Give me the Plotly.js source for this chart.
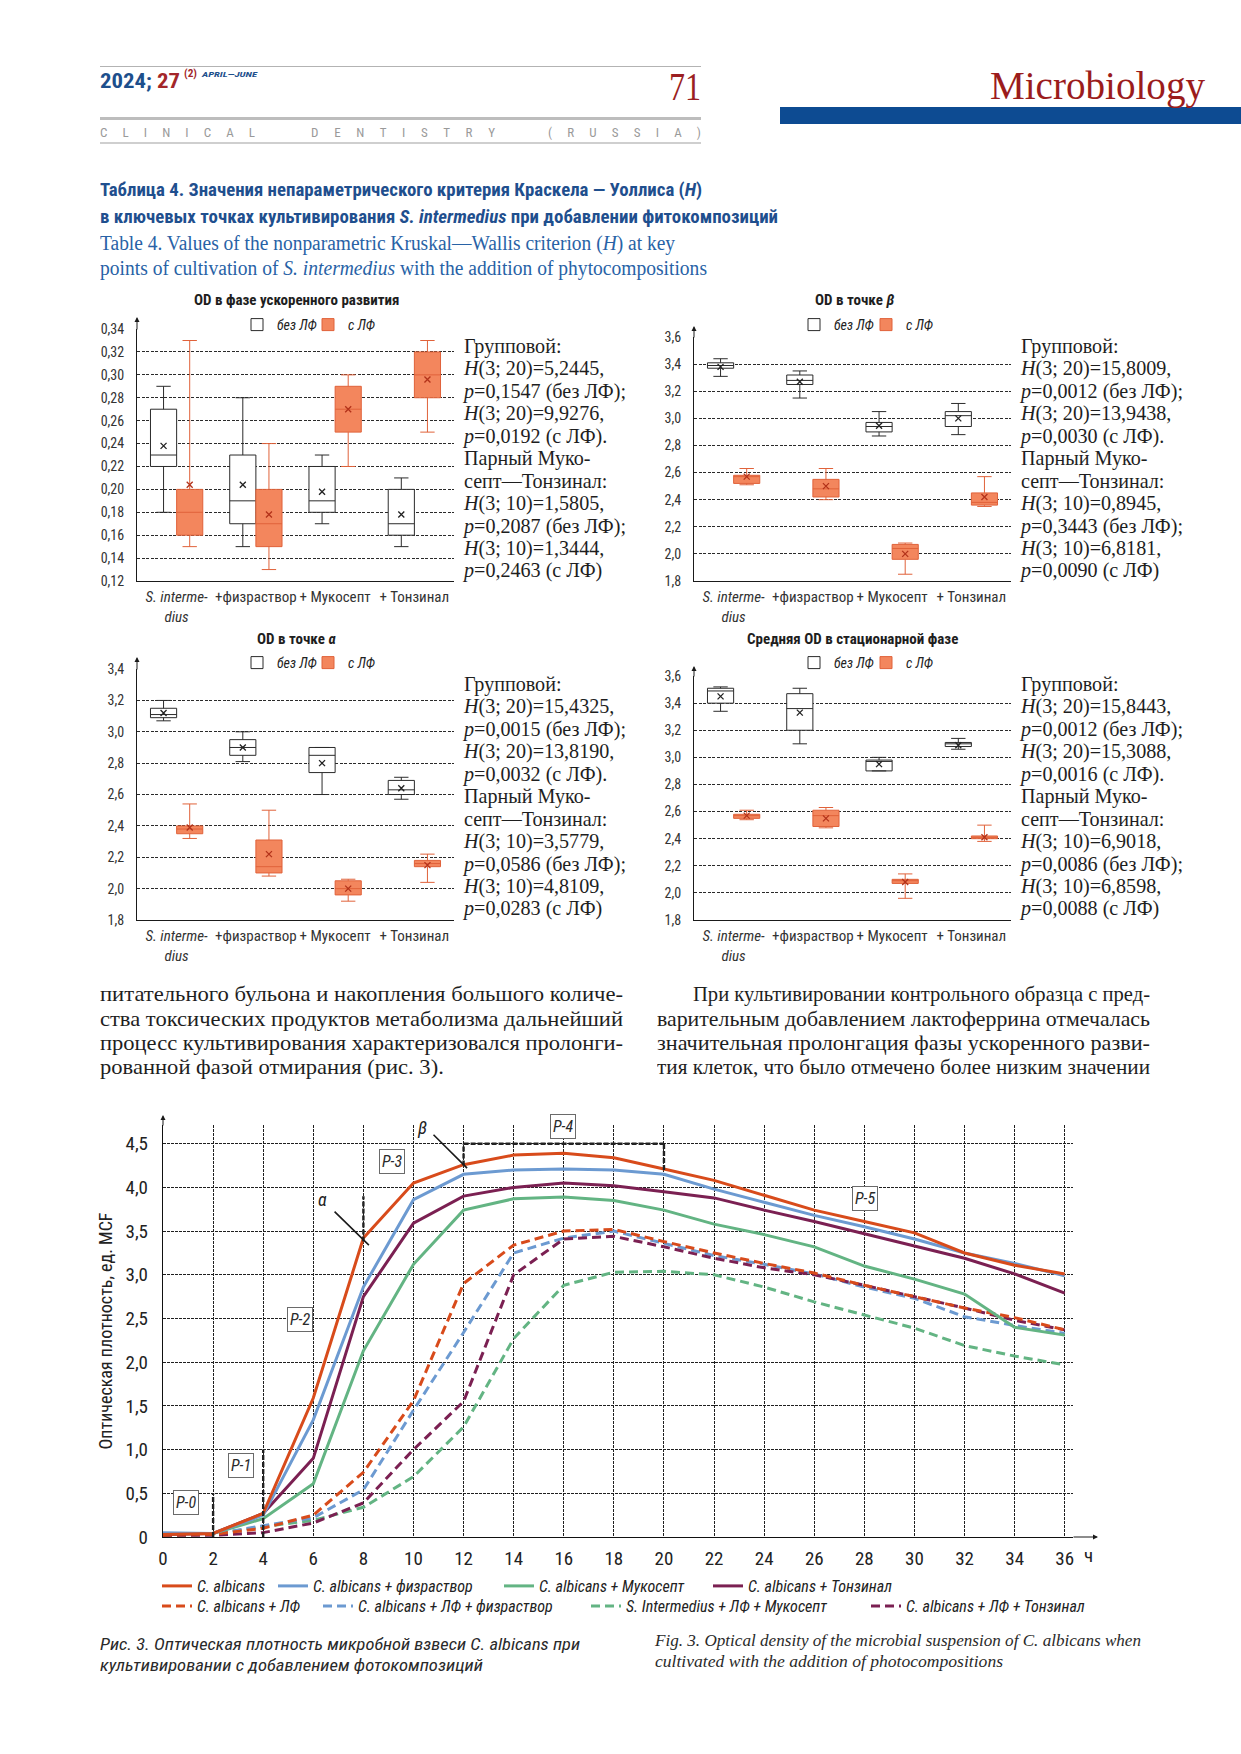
<!DOCTYPE html>
<html><head><meta charset="utf-8">
<script src="https://cdn.plot.ly/plotly-3.0.1.min.js"></script>
<style>
html,body{margin:0;padding:0;background:#fff;}
#page{position:relative;width:1241px;height:1754px;overflow:hidden;background:#fff;}
#plot{position:absolute;left:0;top:0;width:1241px;height:1754px;}
.t{position:absolute;white-space:nowrap;line-height:1;transform-origin:0 50%;}
.rule{position:absolute;}
</style></head>
<body><div id="page"><div id="plot"></div></div>
<script>
// ================= DATA =================
// Box charts: categories and groups
const boxCategories = ['<i>S. interme-</i><br><i>dius</i>', '+физраствор', '+ Мукосепт', '+ Тонзинал'];
const groupNames = ['без ЛФ', 'с ЛФ'];

// OD in accelerated growth phase
const accNoLfLow  = [0.18, 0.15, 0.17, 0.15];
const accNoLfQ1   = [0.22, 0.17, 0.18, 0.16];
const accNoLfMed  = [0.23, 0.19, 0.19, 0.17];
const accNoLfQ3   = [0.27, 0.23, 0.22, 0.20];
const accNoLfHigh = [0.29, 0.28, 0.23, 0.21];
const accNoLfMean = [0.238, 0.204, 0.198, 0.178];
const accLfLow    = [0.15, 0.13, 0.22, 0.25];
const accLfQ1     = [0.16, 0.15, 0.25, 0.28];
const accLfMed    = [0.18, 0.17, 0.27, 0.30];
const accLfQ3     = [0.20, 0.20, 0.29, 0.32];
const accLfHigh   = [0.33, 0.24, 0.30, 0.33];
const accLfMean   = [0.204, 0.178, 0.270, 0.296];

// OD at point beta
const betaNoLfLow  = [3.31, 3.15, 2.87, 2.88];
const betaNoLfQ1   = [3.37, 3.25, 2.90, 2.94];
const betaNoLfMed  = [3.39, 3.28, 2.94, 3.02];
const betaNoLfQ3   = [3.41, 3.32, 2.97, 3.05];
const betaNoLfHigh = [3.44, 3.35, 3.05, 3.11];
const betaNoLfMean = [3.38, 3.27, 2.945, 3.00];
const betaLfLow    = [2.51, 2.40, 1.85, 2.35];
const betaLfQ1     = [2.52, 2.42, 1.96, 2.36];
const betaLfMed    = [2.57, 2.48, 2.04, 2.38];
const betaLfQ3     = [2.58, 2.55, 2.07, 2.45];
const betaLfHigh   = [2.63, 2.63, 2.08, 2.57];
const betaLfMean   = [2.57, 2.50, 2.00, 2.42];

// OD at point alpha
const alphaNoLfLow  = [3.07, 2.81, 2.60, 2.57];
const alphaNoLfQ1   = [3.09, 2.85, 2.74, 2.60];
const alphaNoLfMed  = [3.11, 2.90, 2.85, 2.63];
const alphaNoLfQ3   = [3.15, 2.95, 2.90, 2.69];
const alphaNoLfHigh = [3.20, 3.00, 2.90, 2.71];
const alphaNoLfMean = [3.12, 2.90, 2.80, 2.64];
const alphaLfLow    = [2.32, 2.08, 1.92, 2.04];
const alphaLfQ1     = [2.35, 2.10, 1.96, 2.14];
const alphaLfMed    = [2.38, 2.14, 2.00, 2.16];
const alphaLfQ3     = [2.40, 2.31, 2.05, 2.18];
const alphaLfHigh   = [2.54, 2.50, 2.06, 2.22];
const alphaLfMean   = [2.39, 2.22, 2.00, 2.15];

// Mean OD in stationary phase
const statNoLfLow  = [3.34, 3.10, 2.90, 3.06];
const statNoLfQ1   = [3.40, 3.20, 2.90, 3.08];
const statNoLfMed  = [3.49, 3.36, 2.97, 3.10];
const statNoLfQ3   = [3.51, 3.47, 2.98, 3.11];
const statNoLfHigh = [3.52, 3.51, 3.00, 3.14];
const statNoLfMean = [3.45, 3.33, 2.95, 3.09];
const statLfLow    = [2.54, 2.48, 1.96, 2.38];
const statLfQ1     = [2.55, 2.49, 2.07, 2.40];
const statLfMed    = [2.57, 2.57, 2.09, 2.41];
const statLfQ3     = [2.58, 2.61, 2.10, 2.42];
const statLfHigh   = [2.61, 2.63, 2.14, 2.50];
const statLfMean   = [2.57, 2.55, 2.08, 2.41];

// Statistics text next to each box chart
const statsAccel = ['Групповой:', '<i>H</i>(3; 20)=5,2445,', '<i>p</i>=0,1547 (без ЛФ);', '<i>H</i>(3; 20)=9,9276,', '<i>p</i>=0,0192 (с ЛФ).', 'Парный Муко-', 'септ—Тонзинал:', '<i>H</i>(3; 10)=1,5805,', '<i>p</i>=0,2087 (без ЛФ);', '<i>H</i>(3; 10)=1,3444,', '<i>p</i>=0,2463 (с ЛФ)'];
const statsBeta = ['Групповой:', '<i>H</i>(3; 20)=15,8009,', '<i>p</i>=0,0012 (без ЛФ);', '<i>H</i>(3; 20)=13,9438,', '<i>p</i>=0,0030 (с ЛФ).', 'Парный Муко-', 'септ—Тонзинал:', '<i>H</i>(3; 10)=0,8945,', '<i>p</i>=0,3443 (без ЛФ);', '<i>H</i>(3; 10)=6,8181,', '<i>p</i>=0,0090 (с ЛФ)'];
const statsAlpha = ['Групповой:', '<i>H</i>(3; 20)=15,4325,', '<i>p</i>=0,0015 (без ЛФ);', '<i>H</i>(3; 20)=13,8190,', '<i>p</i>=0,0032 (с ЛФ).', 'Парный Муко-', 'септ—Тонзинал:', '<i>H</i>(3; 10)=3,5779,', '<i>p</i>=0,0586 (без ЛФ);', '<i>H</i>(3; 10)=4,8109,', '<i>p</i>=0,0283 (с ЛФ)'];
const statsStat = ['Групповой:', '<i>H</i>(3; 20)=15,8443,', '<i>p</i>=0,0012 (без ЛФ);', '<i>H</i>(3; 20)=15,3088,', '<i>p</i>=0,0016 (с ЛФ).', 'Парный Муко-', 'септ—Тонзинал:', '<i>H</i>(3; 10)=6,9018,', '<i>p</i>=0,0086 (без ЛФ);', '<i>H</i>(3; 10)=6,8598,', '<i>p</i>=0,0088 (с ЛФ)'];

// Growth curves (Fig. 3)
const hours = [0, 2, 4, 6, 8, 10, 12, 14, 16, 18, 20, 22, 24, 26, 28, 30, 32, 34, 36];
const hourLabels = ['0','2','4','6','8','10','12','14','16','18','20','22','24','26','28','30','32','34','36'];
const odTicks = [0, 0.5, 1, 1.5, 2, 2.5, 3, 3.5, 4, 4.5];
const odTickText = ['0', '0,5', '1,0', '1,5', '2,0', '2,5', '3,0', '3,5', '4,0', '4,5'];
const caAlbicans = [0.03, 0.04, 0.27, 1.59, 3.42, 4.05, 4.26, 4.37, 4.39, 4.34, 4.21, 4.08, 3.91, 3.74, 3.61, 3.48, 3.25, 3.11, 3.01];
const caFiz      = [0.05, 0.04, 0.25, 1.34, 2.86, 3.86, 4.15, 4.20, 4.21, 4.20, 4.15, 3.98, 3.83, 3.68, 3.55, 3.41, 3.25, 3.13, 2.99];
const caMuk      = [0.04, 0.04, 0.21, 0.61, 2.13, 3.12, 3.74, 3.87, 3.89, 3.85, 3.74, 3.58, 3.46, 3.32, 3.10, 2.95, 2.78, 2.40, 2.31];
const caTonz     = [0.03, 0.04, 0.27, 0.90, 2.75, 3.59, 3.90, 4.00, 4.05, 4.02, 3.95, 3.88, 3.74, 3.61, 3.47, 3.33, 3.19, 3.01, 2.79];
const caLf       = [0.02, 0.03, 0.10, 0.25, 0.74, 1.56, 2.90, 3.34, 3.50, 3.52, 3.38, 3.25, 3.13, 3.02, 2.88, 2.75, 2.62, 2.51, 2.37];
const caLfFiz    = [0.02, 0.03, 0.13, 0.22, 0.54, 1.45, 2.34, 3.25, 3.42, 3.50, 3.36, 3.22, 3.12, 3.01, 2.86, 2.73, 2.52, 2.42, 2.33];
const siLfMuk    = [0.02, 0.03, 0.12, 0.19, 0.34, 0.69, 1.26, 2.27, 2.88, 3.03, 3.04, 3.00, 2.86, 2.69, 2.54, 2.39, 2.19, 2.07, 1.97];
const caLfTonz   = [0.02, 0.02, 0.05, 0.16, 0.39, 1.00, 1.55, 3.00, 3.41, 3.44, 3.32, 3.19, 3.08, 3.00, 2.88, 2.75, 2.62, 2.48, 2.37];
const seriesNames = ['C. albicans', 'C. albicans + физраствор', 'C. albicans + Мукосепт', 'C. albicans + Тонзинал',
  'C. albicans + ЛФ', 'C. albicans + ЛФ + физраствор', 'S. Intermedius + ЛФ + Мукосепт', 'C. albicans + ЛФ + Тонзинал'];

// ================= LAYOUT HELPERS =================
const W = 1241, H = 1754;
const fx = v => v / W;
const fy = v => 1 - v / H;
const SANS = "'Liberation Sans Narrow', 'Arial Narrow', 'Roboto Condensed', Roboto, sans-serif";
const SERIF = "'Liberation Serif', 'DejaVu Serif', serif";
const page = document.getElementById('page');

function addRule(x, y, w, h, c) {
  const d = document.createElement('div');
  d.className = 'rule';
  Object.assign(d.style, {left: x + 'px', top: y + 'px', width: w + 'px', height: h + 'px', background: c});
  page.appendChild(d);
}
function addText(html, x, yc, o) {
  const d = document.createElement('div');
  d.className = 't';
  d.innerHTML = html;
  const size = o.size || 16;
  d.style.left = x + 'px';
  d.style.top = (yc - size * 0.48) + 'px';
  d.style.fontSize = size + 'px';
  d.style.fontFamily = o.family || SERIF;
  d.style.color = o.color || '#222';
  if (o.weight) d.style.fontWeight = o.weight;
  if (o.italic) d.style.fontStyle = 'italic';
  page.appendChild(d);
  if (o.w) {
    const nat = d.getBoundingClientRect().width;
    d.style.transform = 'scaleX(' + (o.w / nat) + ')';
  }
  return d;
}
function addSpread(letters, x, yc, w, o) {
  const d = addText(letters, x, yc, o);
  d.style.whiteSpace = 'normal';
  d.style.width = w + 'px';
  d.style.textAlign = 'justify';
  d.style.textAlignLast = 'justify';
}
function addParagraph(lines, xs, ws, ycs, justify, size) {
  const nodes = lines.map((t, i) => addText(t, xs[i], ycs[i], {size: size, family: SERIF, color: '#1e1e1e'}));
  const nats = nodes.map(n => n.getBoundingClientRect().width);
  const ratios = [];
  lines.forEach((t, i) => { if (justify[i]) ratios.push(ws[i] / nats[i]); });
  const avg = ratios.reduce((a, b) => a + b, 0) / ratios.length;
  nodes.forEach((n, i) => {
    const s = justify[i] ? ws[i] / nats[i] : avg;
    n.style.transform = 'scaleX(' + s + ')';
  });
}
function addStats(lines, x, y0, step) {
  const nodes = lines.map((t, i) => addText(t, x, y0 + i * step, {size: 21, family: SERIF, color: '#1e1e1e'}));
  const s = 162 / nodes[2].getBoundingClientRect().width;
  nodes.forEach(n => n.style.transform = 'scaleX(' + s + ')');
}

function drawPageText() {
  // header
  addRule(100, 66, 601, 1, '#b3b3b3');
  addRule(100, 117, 601, 3, '#bdbdbd');
  addRule(100, 142, 601, 2, '#cfcfcf');
  addRule(780, 107, 461, 17, '#0d4b92');
  addText('<span style="color:#1d4f8c">2024;</span> <span style="color:#a3262a">27</span>', 100, 81, {size: 20, family: SANS, weight: 'bold', w: 80});
  addText('(2)', 184, 74, {size: 10, family: SANS, weight: 'bold', color: '#a3262a', w: 13});
  addText('APRIL—JUNE', 202, 75, {size: 8, family: SANS, weight: 'bold', italic: true, color: '#1d4f8c', w: 55});
  addText('71', 669, 86, {size: 40, family: SERIF, color: '#9b1f22', w: 32});
  addSpread('C L I N I C A L', 100, 132, 155, {size: 13, family: SANS, color: '#9a9a9a'});
  addSpread('D E N T I S T R Y', 311, 132, 184, {size: 13, family: SANS, color: '#9a9a9a'});
  addSpread('( R U S S I A )', 548, 132, 153, {size: 13, family: SANS, color: '#9a9a9a'});
  addText('Microbiology', 990, 85, {size: 40, family: SERIF, color: '#9b1c1c', w: 215});
  // table caption
  addText('Таблица 4. Значения непараметрического критерия Краскела — Уоллиса (<i>H</i>)', 100, 190, {size: 18, family: SANS, weight: 'bold', color: '#1f4f8e', w: 602});
  addText('в ключевых точках культивирования <i>S. intermedius</i> при добавлении фитокомпозиций', 100, 217, {size: 18, family: SANS, weight: 'bold', color: '#1f4f8e', w: 678});
  addText('Table 4. Values of the nonparametric Kruskal—Wallis criterion (<i>H</i>) at key', 100, 243, {size: 20, family: SERIF, color: '#2862a6', w: 575});
  addText('points of cultivation of <i>S. intermedius</i> with the addition of phytocompositions', 100, 268, {size: 20, family: SERIF, color: '#2862a6', w: 607});
  // stats next to box charts
  addStats(statsAccel, 464, 346, 22.45);
  addStats(statsBeta, 1021, 346, 22.45);
  addStats(statsAlpha, 464, 684, 22.45);
  addStats(statsStat, 1021, 684, 22.45);
  // body paragraphs
  const pys = [994, 1019, 1043, 1067];
  addParagraph(['питательного бульона и накопления большого количе-', 'ства токсических продуктов метаболизма дальнейший', 'процесс культивирования характеризовался пролонги-', 'рованной фазой отмирания (рис. 3).'],
    [100, 100, 100, 100], [523, 523, 523, 523], pys, [true, true, true, false], 21);
  addParagraph(['При культивировании контрольного образца с пред-', 'варительным добавлением лактоферрина отмечалась', 'значительная пролонгация фазы ускоренного разви-', 'тия клеток, что было отмечено более низким значении'],
    [693, 657, 657, 657], [457, 493, 493, 493], pys, [true, true, true, true], 21);
  // figure captions
  addText('Рис. 3. Оптическая плотность микробной взвеси C. albicans при', 100, 1644, {size: 17, family: SANS, italic: true, color: '#2a2a2a', w: 480});
  addText('культивировании с добавлением фотокомпозиций', 100, 1665, {size: 17, family: SANS, italic: true, color: '#2a2a2a', w: 383});
  addText('Fig. 3. Optical density of the microbial suspension of C. albicans when', 655, 1640, {size: 17, family: SERIF, italic: true, color: '#2a2a2a', w: 486});
  addText('cultivated with the addition of photocompositions', 655, 1661, {size: 17, family: SERIF, italic: true, color: '#2a2a2a', w: 348});
}

// ================= PLOT =================
const traces = [];
const layout = {
  width: W, height: H, margin: {l: 0, r: 0, t: 0, b: 0},
  paper_bgcolor: 'rgba(0,0,0,0)', plot_bgcolor: 'rgba(0,0,0,0)',
  separators: ', ', showlegend: true, boxmode: 'overlay',
  font: {family: SANS, color: '#222'},
  annotations: [], shapes: []
};
let legendCount = 0;
function newLegend(left, yc, size) {
  legendCount += 1;
  const id = legendCount === 1 ? 'legend' : 'legend' + legendCount;
  layout[id] = {x: fx(left), y: fy(yc), xanchor: 'left', yanchor: 'middle', orientation: 'h',
    bgcolor: 'rgba(0,0,0,0)', borderwidth: 0, itemwidth: 30, itemclick: false, itemdoubleclick: false,
    font: {family: SANS, size: size, style: 'italic', color: '#222'}};
  return id;
}
function arrowHead(xp, yp, axp, ayp) {
  layout.annotations.push({xref: 'paper', yref: 'paper', x: fx(xp), y: fy(yp), ax: axp, ay: ayp, text: '',
    showarrow: true, arrowhead: 2, arrowsize: 1, arrowwidth: 1, arrowcolor: '#1a1a1a'});
}

const boxPanels = [
  {title: 'OD в фазе ускоренного развития', tx: 296, ty: 300, x0: 137, x1: 454, yTop: 329, yBot: 581, tip: 317,
   r: [0.12, 0.34], dt: 0.02, fmt: '.2f', legY: 325, legA: 237, legB: 308, gap: [242, 376],
   a: [accNoLfLow, accNoLfQ1, accNoLfMed, accNoLfQ3, accNoLfHigh, accNoLfMean],
   b: [accLfLow, accLfQ1, accLfMed, accLfQ3, accLfHigh, accLfMean]},
  {title: 'OD в точке <i>β</i>', tx: 854, ty: 300, x0: 694, x1: 1011, yTop: 337, yBot: 581, tip: 326,
   r: [1.8, 3.6], dt: 0.2, fmt: '.1f', legY: 325, legA: 794, legB: 866, gap: null,
   a: [betaNoLfLow, betaNoLfQ1, betaNoLfMed, betaNoLfQ3, betaNoLfHigh, betaNoLfMean],
   b: [betaLfLow, betaLfQ1, betaLfMed, betaLfQ3, betaLfHigh, betaLfMean]},
  {title: 'OD в точке <i>α</i>', tx: 296, ty: 639, x0: 137, x1: 454, yTop: 669, yBot: 920, tip: 657,
   r: [1.8, 3.4], dt: 0.2, fmt: '.1f', legY: 663, legA: 237, legB: 308, gap: [242, 376],
   a: [alphaNoLfLow, alphaNoLfQ1, alphaNoLfMed, alphaNoLfQ3, alphaNoLfHigh, alphaNoLfMean],
   b: [alphaLfLow, alphaLfQ1, alphaLfMed, alphaLfQ3, alphaLfHigh, alphaLfMean]},
  {title: 'Средняя OD в стационарной фазе', tx: 852, ty: 639, x0: 694, x1: 1011, yTop: 676, yBot: 920, tip: 666,
   r: [1.8, 3.6], dt: 0.2, fmt: '.1f', legY: 663, legA: 794, legB: 866, gap: null,
   a: [statNoLfLow, statNoLfQ1, statNoLfMed, statNoLfQ3, statNoLfHigh, statNoLfMean],
   b: [statLfLow, statLfQ1, statLfMed, statLfQ3, statLfHigh, statLfMean]}
];

const OFF = 0.165;
boxPanels.forEach((p, k) => {
  const sfx = k === 0 ? '' : String(k + 1);
  const xa = 'x' + sfx, ya = 'y' + sfx;
  const posA = boxCategories.map((c, i) => i - OFF);
  const posB = boxCategories.map((c, i) => i + OFF);
  const groups = [
    {pos: posA, s: p.a, fill: '#ffffff', line: '#2b2b2b', meanC: '#222222', leg: newLegend(p.legA, p.legY, 14), name: groupNames[0]},
    {pos: posB, s: p.b, fill: '#f3865d', line: '#e0623a', meanC: '#b3321a', leg: newLegend(p.legB, p.legY, 14), name: groupNames[1]}
  ];
  groups.forEach(g => {
    traces.push({type: 'box', x: g.pos, lowerfence: g.s[0], q1: g.s[1], median: g.s[2], q3: g.s[3], upperfence: g.s[4],
      width: 2 * OFF, whiskerwidth: 0.55, fillcolor: g.fill, line: {color: g.line, width: 1},
      name: g.name, legend: g.leg, xaxis: xa, yaxis: ya, boxpoints: false, hoverinfo: 'skip'});
    traces.push({type: 'scatter', mode: 'markers', x: g.pos, y: g.s[5], xaxis: xa, yaxis: ya, showlegend: false,
      marker: {symbol: 'x-thin', size: 6, line: {width: 1.3, color: g.meanC}}, hoverinfo: 'skip'});
  });
  layout['xaxis' + sfx] = {domain: [fx(p.x0), fx(p.x1)], range: [-0.5, 3.5], tickmode: 'array', tickvals: [0, 1, 2, 3],
    ticktext: boxCategories, showgrid: false, zeroline: false, showline: true, linecolor: '#1a1a1a', linewidth: 1,
    ticks: '', ticklabelstandoff: 2, tickfont: {family: SANS, size: 15, color: '#333'}, anchor: ya, fixedrange: true};
  layout['yaxis' + sfx] = {domain: [fy(p.yBot), fy(p.yTop)], range: [p.r[0], p.r[1] + p.dt * 0.002], tick0: p.r[0], dtick: p.dt,
    tickformat: p.fmt, showgrid: true, gridcolor: '#2a2a2a', gridwidth: 1, griddash: '3px,1.5px', zeroline: false,
    showline: true, linecolor: '#1a1a1a', linewidth: 1, ticks: '', ticklabelstandoff: 9,
    tickfont: {family: SANS, size: 14, color: '#333'}, anchor: xa, fixedrange: true};
  layout.annotations.push({xref: 'paper', yref: 'paper', x: fx(p.tx), y: fy(p.ty), text: '<b>' + p.title + '</b>',
    showarrow: false, xanchor: 'center', yanchor: 'middle', font: {family: SANS, size: 15, color: '#1e1e1e'}});
  arrowHead(p.x0, p.tip, 0, p.yTop - p.tip + 2);
  if (p.gap) {
    // legend interrupts the top gridline
    layout.shapes.push({type: 'rect', xref: 'paper', yref: 'paper', x0: fx(p.gap[0]), x1: fx(p.gap[1]),
      y0: fy(p.yTop + 3), y1: fy(p.yTop - 3), fillcolor: '#ffffff', line: {width: 0}, layer: 'above'});
  }
});

// ---- growth curve chart ----
const lineDefs = [
  {y: caAlbicans, color: '#d84b1b', dash: 'solid', lx: 197, ly: 1586},
  {y: caFiz,      color: '#6c9ad1', dash: 'solid', lx: 313, ly: 1586},
  {y: caMuk,      color: '#63b483', dash: 'solid', lx: 539, ly: 1586},
  {y: caTonz,     color: '#7b2052', dash: 'solid', lx: 748, ly: 1586},
  {y: caLf,       color: '#d84b1b', dash: '9px,5px', lx: 197, ly: 1606},
  {y: caLfFiz,    color: '#6c9ad1', dash: '9px,5px', lx: 358, ly: 1606},
  {y: siLfMuk,    color: '#63b483', dash: '9px,5px', lx: 626, ly: 1606},
  {y: caLfTonz,   color: '#7b2052', dash: '9px,5px', lx: 906, ly: 1606}
];
const drawOrder = [6, 5, 7, 4, 2, 3, 1, 0];
drawOrder.forEach(i => {
  const d = lineDefs[i];
  traces.push({type: 'scatter', mode: 'lines', x: hours, y: d.y, name: seriesNames[i], xaxis: 'x5', yaxis: 'y5',
    line: {color: d.color, width: 3, dash: d.dash}, legend: newLegend(d.lx - 40, d.ly, 16), hoverinfo: 'skip'});
});
layout.xaxis5 = {domain: [fx(163), fx(1073)], range: [0, 36.33], tickmode: 'array', tickvals: hours, ticktext: hourLabels,
  showgrid: true, gridcolor: '#1f1f1f', gridwidth: 1, griddash: '3px,1px', zeroline: false, showline: true,
  linecolor: '#111', linewidth: 1.2, ticks: '', ticklabelstandoff: 4, tickfont: {family: SANS, size: 19, color: '#222'},
  anchor: 'y5', fixedrange: true};
layout.yaxis5 = {domain: [fy(1537), fy(1125)], range: [0, 4.714], tickmode: 'array', tickvals: odTicks, ticktext: odTickText,
  showgrid: true, gridcolor: '#1f1f1f', gridwidth: 1, griddash: '3px,1px', zeroline: false, showline: true,
  linecolor: '#111', linewidth: 1.2, ticks: '', ticklabelstandoff: 10, tickfont: {family: SANS, size: 19, color: '#222'},
  title: {text: 'Оптическая плотность, ед. MCF', font: {family: SANS, size: 18, color: '#222'}, standoff: 8},
  anchor: 'x5', fixedrange: true};
arrowHead(163, 1115, 0, 12);
arrowHead(1098, 1537, -26, 0);
layout.annotations.push({xref: 'paper', yref: 'paper', x: fx(1088), y: fy(1555), text: 'ч', showarrow: false,
  xanchor: 'center', yanchor: 'middle', font: {family: SANS, size: 19, color: '#222'}});

// phase labels
const phaseLabels = [
  {t: 'P-0', h: 0.92, od: 0.39}, {t: 'P-1', h: 3.11, od: 0.82}, {t: 'P-2', h: 5.47, od: 2.49},
  {t: 'P-3', h: 9.14, od: 4.30}, {t: 'P-4', h: 15.97, od: 4.70}, {t: 'P-5', h: 28.02, od: 3.87}
];
phaseLabels.forEach(p => layout.annotations.push({xref: 'x5', yref: 'y5', x: p.h, y: p.od, text: '<i>' + p.t + '</i>',
  showarrow: false, bgcolor: '#ffffff', bordercolor: '#6a6a6a', borderwidth: 1, borderpad: 2,
  font: {family: SANS, size: 16, color: '#2a2a2a'}}));
layout.annotations.push({xref: 'x5', yref: 'y5', x: 6.35, y: 3.86, text: '<i>α</i>', showarrow: false,
  font: {family: SANS, size: 18, color: '#222'}});
layout.annotations.push({xref: 'x5', yref: 'y5', x: 10.34, y: 4.69, text: '<i>β</i>', showarrow: false,
  font: {family: SANS, size: 18, color: '#222'}});
layout.annotations.push({xref: 'x5', yref: 'y5', axref: 'x5', ayref: 'y5', x: 8.22, y: 3.34, ax: 6.79, ay: 3.74,
  text: '', showarrow: true, arrowhead: 0, arrowwidth: 1.6, arrowcolor: '#1a1a1a'});
layout.annotations.push({xref: 'x5', yref: 'y5', axref: 'x5', ayref: 'y5', x: 12.14, y: 4.22, ax: 10.74, ay: 4.62,
  text: '', showarrow: true, arrowhead: 0, arrowwidth: 1.6, arrowcolor: '#1a1a1a'});

// phase boundaries (heavy dashed)
const phaseBounds = [
  {x0: 2, x1: 2, y0: 0, y1: 0.5}, {x0: 4, x1: 4, y0: 0, y1: 1.0}, {x0: 8, x1: 8, y0: 3.38, y1: 3.9},
  {x0: 12, x1: 12, y0: 4.25, y1: 4.5}, {x0: 20, x1: 20, y0: 4.2, y1: 4.5}, {x0: 12, x1: 20, y0: 4.5, y1: 4.5}
];
phaseBounds.forEach(b => layout.shapes.push({type: 'line', xref: 'x5', yref: 'y5', x0: b.x0, x1: b.x1, y0: b.y0, y1: b.y1,
  line: {color: '#222', width: 2.4, dash: '5px,2px'}, layer: 'above'}));

Plotly.newPlot('plot', traces, layout, {staticPlot: true, displayModeBar: false});

(document.fonts && document.fonts.ready ? document.fonts.ready : Promise.resolve()).then(drawPageText);
</script>
</body></html>
